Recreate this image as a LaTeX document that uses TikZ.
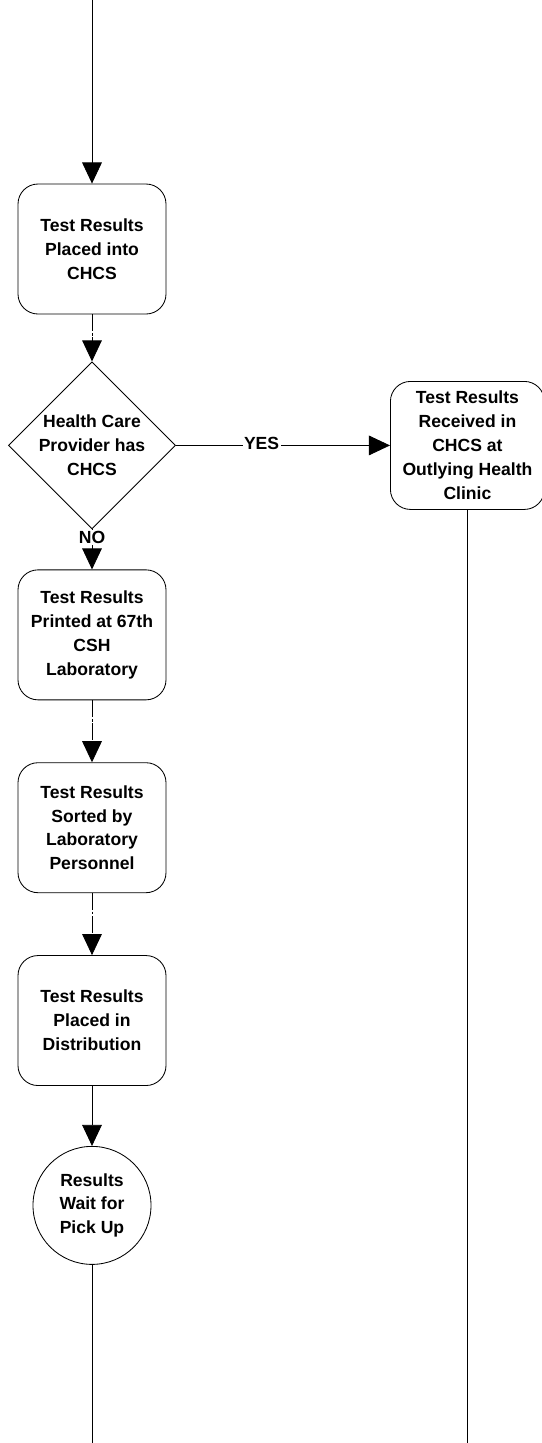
\documentclass[tikz,border=0pt]{standalone}
\usepackage{fontspec}
\setmainfont{Liberation Sans}
\usetikzlibrary{positioning,shapes.geometric,arrows.meta}

\tikzset{
	stepbox/.style = {draw, line width=0.6pt, rounded corners=0.5cm, align=center, minimum width=3.7cm, minimum height=3.25cm, font=\fontsize{12.5}{17}\selectfont\bfseries},
	decision/.style = {draw, line width=0.6pt, diamond, align=center, minimum width=4.1cm, minimum height=4cm, inner sep=0pt, font=\fontsize{12.5}{17}\selectfont\bfseries},
	waitnode/.style = {draw, line width=0.6pt, circle, align=center, minimum size=2.95cm, inner sep=0pt, font=\fontsize{12.5}{17}\selectfont\bfseries},
	flow/.style = {line width=0.6pt, -{Triangle[length=15pt,width=14pt]}},
	brokenflow/.style = {flow, dash pattern=on 12pt off 1.2pt on 2pt off 1.2pt},
	lbl/.style = {fill=white, inner sep=1pt, font=\fontsize{12.5}{15}\selectfont\bfseries}
}

\begin{document}
\begin{tikzpicture}
					\useasboundingbox (0,0) rectangle (13.55,-36.075);
					
					\coordinate (start) at (2.3,0);
					\node[stepbox] (placed) at (2.3,-6.225) {Test Results\\Placed into\\CHCS};
					\node[decision, below=1.175cm of placed] (provider) {Health Care\\Provider has\\CHCS};
					\node[stepbox, minimum width=3.85cm, minimum height=3.2cm, right=5.35cm of provider] (received) {Test Results\\Received in\\CHCS at\\Outlying Health\\Clinic};
					\node[stepbox, below=1.0cm of provider] (printed) {Test Results\\Printed at 67th\\CSH\\Laboratory};
					\node[stepbox, below=1.55cm of printed] (sorted) {Test Results\\Sorted by\\Laboratory\\Personnel};
					\node[stepbox, below=1.55cm of sorted] (distrib) {Test Results\\Placed in\\Distribution};
					\node[waitnode, below=1.5cm of distrib] (pickup) {Results\\Wait for\\Pick Up};
					\coordinate (leftend) at (2.3,-36.075);
					\coordinate (rightend) at (received.south |- leftend);
					
					\draw[flow] (start) -- (placed);
					\draw[brokenflow] (placed) -- (provider);
					\draw[flow] (provider) -- node[lbl, pos=0.4, anchor=south, yshift=-4pt] {YES} (received);
					\draw[flow] (provider) -- node[lbl, pos=0.2] {NO} (printed);
					\draw[brokenflow] (printed) -- (sorted);
					\draw[brokenflow] (sorted) -- (distrib);
					\draw[flow] (distrib) -- (pickup);
					\draw[line width=0.6pt] (pickup) -- (leftend);
					\draw[line width=0.6pt] (received) -- (rightend);
				\end{tikzpicture}
\end{document}
